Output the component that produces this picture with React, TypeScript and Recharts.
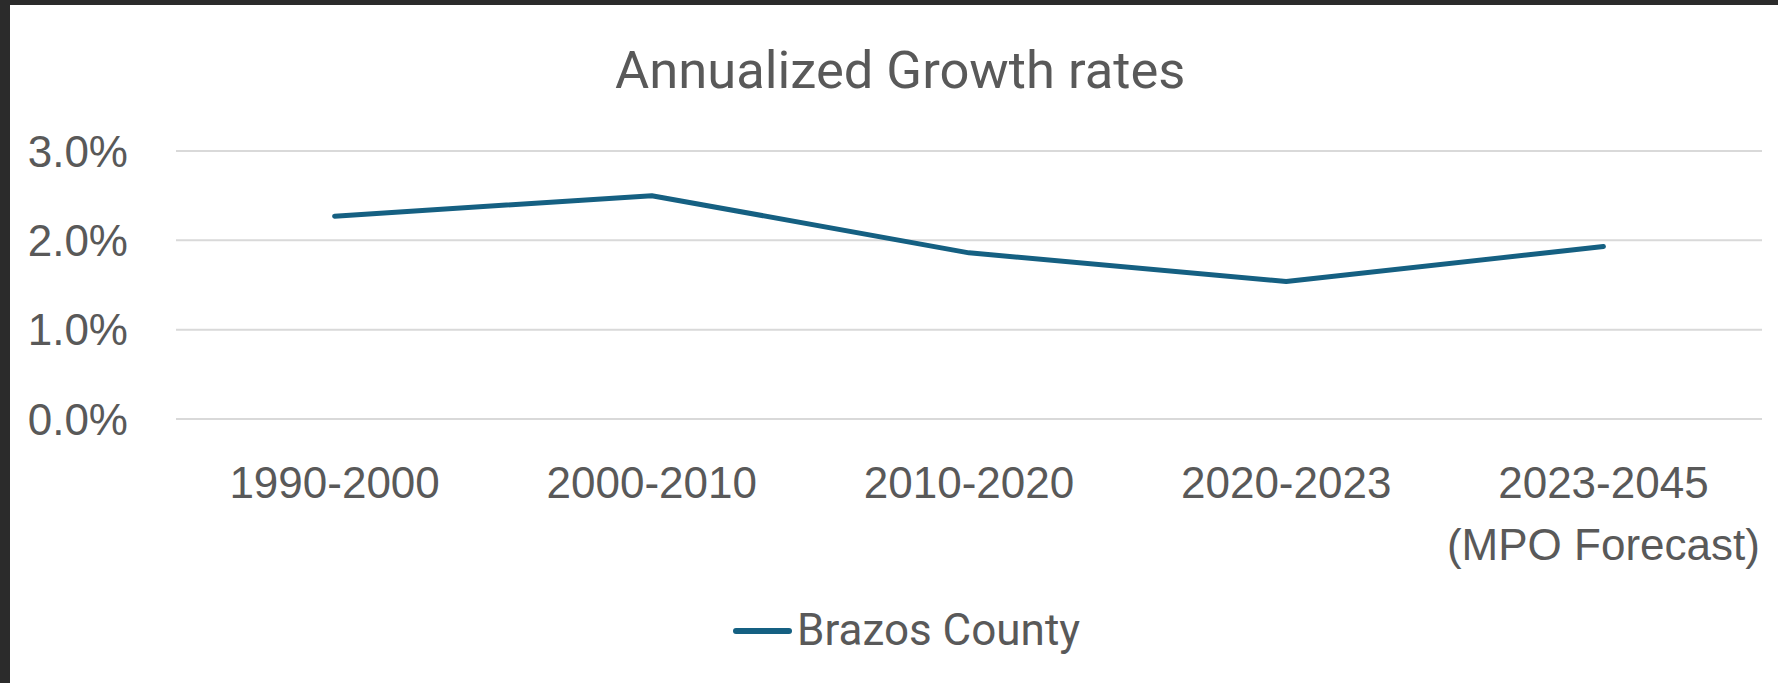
import React from 'react';
import { LineChart, Line, XAxis, YAxis, CartesianGrid, Legend } from 'recharts';

const categories = ['1990-2000', '2000-2010', '2010-2020', '2020-2023', '2023-2045\n(MPO Forecast)'];
const brazosCounty = [0.0227, 0.025, 0.0186, 0.0154, 0.0193];
const yTicks = [0, 0.01, 0.02, 0.03];
const seriesName = 'Brazos County';
const title = 'Annualized Growth rates';

const data = categories.map((c, i) => ({ category: c, value: brazosCounty[i] }));

const TEXT = '#595959';
const LINE = '#156082';

const XTick = (props: any) => {
  const { x, y, payload } = props;
  const lines = String(payload.value).split('\n');
  return (
    <text x={x} y={y} textAnchor="middle" fill={TEXT} fontSize={44} fontFamily="'Liberation Sans', Arial, sans-serif">
      {lines.map((l, i) => (
        <tspan key={i} x={x} dy={i === 0 ? 79 : 62}>
          {l}
        </tspan>
      ))}
    </text>
  );
};

const LegendContent = () => (
  <div style={{ position: 'relative', height: 62, width: 1778 }}>
    <div style={{ position: 'absolute', left: 733, top: 28, width: 59, height: 6, background: LINE, borderRadius: 3 }} />
    <span
      style={{
        position: 'absolute',
        left: 797,
        top: 8,
        fontFamily: 'Roboto, sans-serif',
        fontSize: 44,
        lineHeight: '44px',
        color: TEXT,
        whiteSpace: 'nowrap',
      }}
    >
      {seriesName}
    </span>
  </div>
);

export default function App() {
  return (
    <div style={{ position: 'absolute', left: 0, top: 0, width: 1778, height: 683, background: '#2b2b2b', overflow: 'hidden' }}>
      <div style={{ position: 'absolute', left: 10, top: 5, width: 1768, height: 678, background: '#ffffff' }} />
      <div
        style={{
          position: 'absolute',
          left: 615,
          top: 44,
          fontFamily: 'Roboto, sans-serif',
          fontSize: 52.5,
          lineHeight: '52px',
          color: TEXT,
          whiteSpace: 'nowrap',
        }}
      >
        {title}
      </div>
      <div style={{ position: 'absolute', left: 0, top: 0 }}>
        <LineChart width={1778} height={683} data={data} margin={{ top: 151, right: 16, bottom: 0, left: 0 }}>
          <CartesianGrid horizontal vertical={false} stroke="#d9d9d9" strokeWidth={2} />
          <XAxis
            dataKey="category"
            height={202}
            axisLine={false}
            tickLine={false}
            tickSize={0}
            tickMargin={0}
            interval={0}
            padding={{ left: 158.6, right: 158.6 }}
            tick={<XTick />}
          />
          <YAxis
            width={176}
            domain={[0, 0.03]}
            ticks={yTicks}
            axisLine={false}
            tickLine={false}
            tickSize={0}
            tickMargin={48}
            tickFormatter={(v: number) => (v * 100).toFixed(1) + '%'}
            tick={{ fill: TEXT, fontSize: 44, fontFamily: "'Liberation Sans', Arial, sans-serif" }}
          />
          <Legend
            verticalAlign="bottom"
            height={62}
            wrapperStyle={{ top: 600, left: 0, width: 1778, height: 62 }}
            content={<LegendContent />}
          />
          <Line
            type="linear"
            dataKey="value"
            name={seriesName}
            stroke={LINE}
            strokeWidth={5}
            strokeLinecap="round"
            strokeLinejoin="round"
            dot={false}
            activeDot={false}
            isAnimationActive={false}
          />
        </LineChart>
      </div>
    </div>
  );
}
